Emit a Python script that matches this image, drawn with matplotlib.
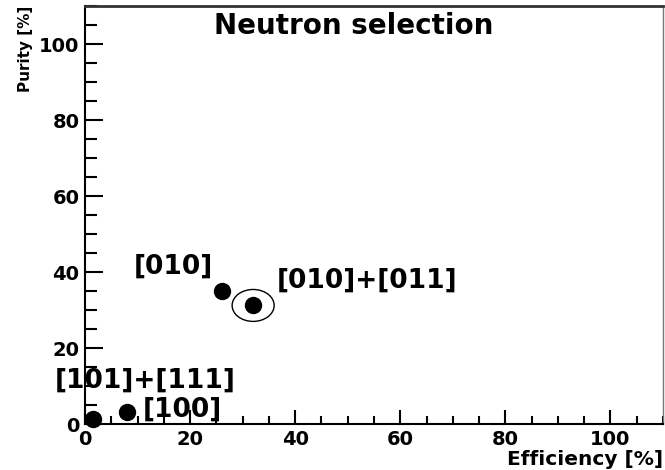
import matplotlib
matplotlib.use("Agg")
import matplotlib.pyplot as plt
from matplotlib.patches import Ellipse
from matplotlib.ticker import MultipleLocator

# data
labels = ["[101]+[111]", "[100]", "[010]", "[010]+[011]"]
efficiency = [1.6, 7.9, 26.0, 32.0]
purity = [1.4, 3.1, 35.0, 31.2]
label_x = [11.4, 18.5, 16.8, 53.7]
label_y = [11.3, 3.8, 41.4, 37.7]
chosen = 3  # the circled point

plt.rcParams['font.family'] = ['DejaVu Sans']
plt.rcParams['font.weight'] = 'bold'

fig = plt.figure(figsize=(6.65, 4.70), dpi=100)
ax = fig.add_axes([85/665, 46/470, 578/665, 418/470])

ax.plot(efficiency, purity, 'o', color='black', markersize=11.5, clip_on=False, zorder=3)
ax.add_patch(Ellipse((efficiency[chosen], purity[chosen]), 8.0, 8.4,
                     fill=False, edgecolor='black', linewidth=1.0))

for t, x, y in zip(labels, label_x, label_y):
    ax.text(x, y, t, ha='center', va='center', fontsize=19, fontweight='bold')

ax.text(51.1, 104.7, "Neutron selection", ha='center', va='center', fontsize=20, fontweight='bold')

ax.set_xlim(0, 110)
ax.set_ylim(0, 110)
ax.xaxis.set_major_locator(MultipleLocator(20))
ax.xaxis.set_minor_locator(MultipleLocator(5))
ax.yaxis.set_major_locator(MultipleLocator(20))
ax.yaxis.set_minor_locator(MultipleLocator(5))
ax.tick_params(axis='both', which='both', direction='in', width=1.5, labelsize=14)
ax.tick_params(axis='y', which='major', length=13, pad=4)
ax.tick_params(axis='y', which='minor', length=8.5)
ax.tick_params(axis='x', which='major', length=10, pad=4)
ax.tick_params(axis='x', which='minor', length=6)
for lab in ax.get_xticklabels() + ax.get_yticklabels():
    lab.set_fontweight('bold')

for s in ['left', 'bottom']:
    ax.spines[s].set_linewidth(1.5)
ax.spines['top'].set_linewidth(2.0)
ax.spines['top'].set_color('#333333')
ax.spines['right'].set_linewidth(1.0)
ax.spines['right'].set_color('#777777')

ax.set_xlabel("Efficiency [%]", loc='right', fontsize=14.5, fontweight='bold')
ax.xaxis.set_label_coords(1.0, -0.062)
ax.set_ylabel("Purity [%]", loc='top', fontsize=11, fontweight='bold')
ax.yaxis.set_label_coords(-0.09, 1.0)

fig.savefig("out.png", dpi=100)
